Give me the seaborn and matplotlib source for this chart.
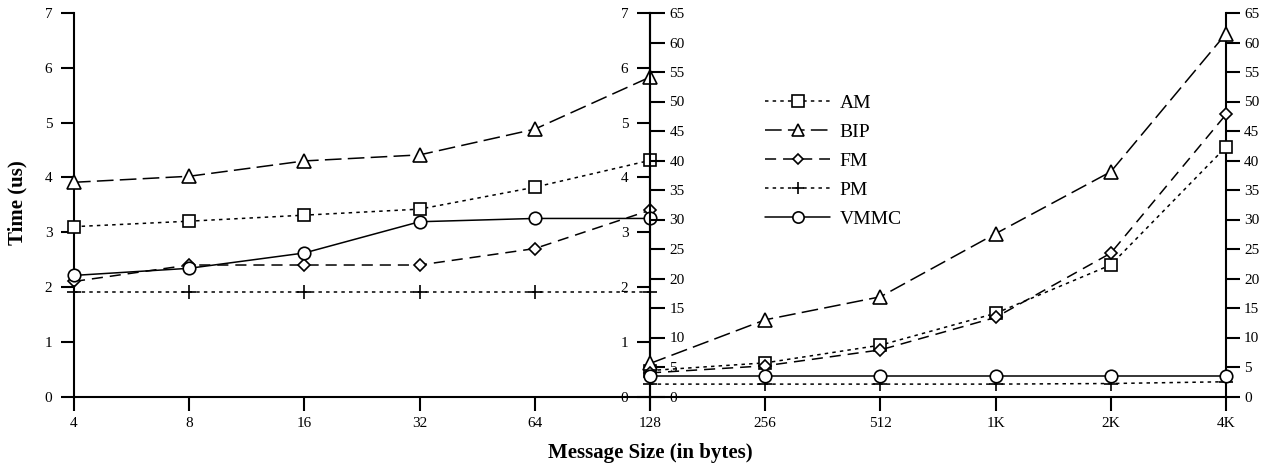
import matplotlib
matplotlib.use("Agg")
import matplotlib.pyplot as plt
import matplotlib.ticker as mticker
import seaborn as sns

# ---------------- data ----------------
sizes_small = [4, 8, 16, 32, 64, 128]
sizes_large = [128, 256, 512, 1024, 2048, 4096]
small_tick_labels = ["4", "8", "16", "32", "64", "128"]
large_tick_labels = ["", "256", "512", "1K", "2K", "4K"]

series_names = ["AM", "BIP", "FM", "PM", "VMMC"]

am_small = [3.1, 3.2, 3.31, 3.42, 3.82, 4.31]
bip_small = [3.91, 4.02, 4.3, 4.41, 4.88, 5.83]
fm_small = [2.1, 2.4, 2.4, 2.4, 2.7, 3.4]
pm_small = [1.9, 1.9, 1.9, 1.9, 1.9, 1.9]
vmmc_small = [2.21, 2.34, 2.62, 3.19, 3.25, 3.25]

am_large = [4.4, 5.7, 8.7, 14.1, 22.3, 42.3]
bip_large = [5.6, 13.0, 16.9, 27.6, 38.1, 61.5]
fm_large = [4.0, 5.2, 7.9, 13.4, 24.3, 47.8]
pm_large = [2.1, 2.1, 2.1, 2.1, 2.2, 2.5]
vmmc_large = [3.5, 3.5, 3.5, 3.5, 3.5, 3.5]

left_yticks = [0, 1, 2, 3, 4, 5, 6, 7]
right_yticks = [0, 5, 10, 15, 20, 25, 30, 35, 40, 45, 50, 55, 60, 65]

# ---------------- styles ----------------
styles = {
    "AM":   dict(marker="s", linestyle=(0, (2.5, 3.0)), markersize=9),
    "BIP":  dict(marker="^", linestyle=(0, (12, 4.5)), markersize=9.5),
    "FM":   dict(marker="D", linestyle=(0, (8, 5)), markersize=6),
    "PM":   dict(marker="+", linestyle=(0, (2.5, 3.0)), markersize=10),
    "VMMC": dict(marker="o", linestyle="-", markersize=9),
}

sns.set_style("white")
plt.rcParams["font.family"] = ["Liberation Serif", "DejaVu Serif"]
plt.rcParams["lines.scale_dashes"] = False
plt.rcParams["text.color"] = "black"
plt.rcParams["axes.labelcolor"] = "black"
plt.rcParams["xtick.color"] = "black"
plt.rcParams["ytick.color"] = "black"

W, H = 1270, 470
fig = plt.figure(figsize=(W / 100, H / 100), dpi=100)

x0, xm, x1 = 74, 650, 1226
ytop, ybot = 13, 396.5
ax1 = fig.add_axes([x0 / W, 1 - ybot / H, (xm - x0) / W, (ybot - ytop) / H])
ax2 = fig.add_axes([xm / W, 1 - ybot / H, (x1 - xm) / W, (ybot - ytop) / H])
for ax in (ax1, ax2):
    ax.set_facecolor("none")

LW = 1.1
SPW = 1.5


def draw(ax, xs, ys, name, label):
    st = styles[name]
    sns.lineplot(x=xs, y=ys, ax=ax, color="black", legend=False,
                 linestyle=st["linestyle"], marker=st["marker"],
                 markersize=st["markersize"], markerfacecolor="white",
                 markeredgecolor="black", markeredgewidth=1.2,
                 linewidth=LW, clip_on=False, zorder=4, label=label,
                 errorbar=None)


small_data = [am_small, bip_small, fm_small, pm_small, vmmc_small]
large_data = [am_large, bip_large, fm_large, pm_large, vmmc_large]

ax1.set_xscale("log", base=2)
ax2.set_xscale("log", base=2)
for name, ys in zip(series_names, small_data):
    draw(ax1, sizes_small, ys, name, "_nolegend_")
for name, ys in zip(series_names, large_data):
    draw(ax2, sizes_large, ys, name, name)

ax1.set_xlim(4, 128)
ax1.set_ylim(0, 7)
ax2.set_xlim(128, 4096)
ax2.set_ylim(0, 65)

ax1.set_xticks(sizes_small)
ax1.set_xticklabels(small_tick_labels)
ax2.set_xticks(sizes_large)
ax2.set_xticklabels(large_tick_labels)
for ax in (ax1, ax2):
    ax.xaxis.set_minor_locator(mticker.NullLocator())
    ax.set_xlabel("")
    ax.set_ylabel("")
    ax.tick_params(axis="x", direction="out", length=10, width=SPW,
                   labelsize=11, pad=5, bottom=True, colors="black")
    ax.grid(False)

# left panel: left axis
ax1.set_yticks(left_yticks)
ax1.tick_params(axis="y", direction="out", length=9.5, width=SPW,
                labelsize=11, pad=6, left=True, colors="black")
for s in ("top", "right"):
    ax1.spines[s].set_visible(False)
for s in ("left", "bottom"):
    ax1.spines[s].set_linewidth(SPW)
    ax1.spines[s].set_color("black")

# left panel: right axis (labels inside, to the left of the 128 line)
sec1 = ax1.secondary_yaxis(1.0)
sec1.set_alignment("left")
sec1.set_yticks(left_yticks)
sec1.tick_params(axis="y", direction="out", length=9.5, width=SPW,
                 labelsize=11, pad=6, colors="black")
for s in sec1.spines.values():
    s.set_linewidth(SPW)
    s.set_color("black")

# right panel: right axis
ax2.yaxis.set_ticks_position("right")
ax2.set_yticks(right_yticks)
ax2.tick_params(axis="y", direction="out", length=10, width=SPW,
                labelsize=11, pad=3, right=True, left=False,
                labelright=True, labelleft=False, colors="black")
for s in ("top", "left"):
    ax2.spines[s].set_visible(False)
for s in ("right", "bottom"):
    ax2.spines[s].set_linewidth(SPW)
    ax2.spines[s].set_color("black")

# right panel: left axis at 128 with labels to the right
sec2 = ax2.secondary_yaxis(0.0)
sec2.set_alignment("right")
sec2.set_yticks(right_yticks)
sec2.tick_params(axis="y", direction="out", length=11, width=SPW,
                 labelsize=11, pad=3, colors="black")
for s in sec2.spines.values():
    s.set_linewidth(SPW)
    s.set_color("black")

# legend
FS = 14
leg = ax2.legend(loc="upper left", bbox_to_anchor=(765 / W, 1 - 94.5 / H),
                 bbox_transform=fig.transFigure, frameon=False,
                 fontsize=FS, handlelength=3.35, handletextpad=0.5,
                 labelspacing=0.58, borderpad=0, borderaxespad=0,
                 markerscale=0.9)
for t in leg.get_texts():
    t.set_color("black")

fig.text(650 / W, 1 - 453 / H, "Message Size (in bytes)", ha="center",
         va="center", fontsize=15, fontweight="bold", color="black")
fig.text(17 / W, 1 - 203 / H, "Time (us)", ha="center", va="center",
         rotation=90, fontsize=15, fontweight="bold", color="black")

fig.savefig("out.png", dpi=100)
